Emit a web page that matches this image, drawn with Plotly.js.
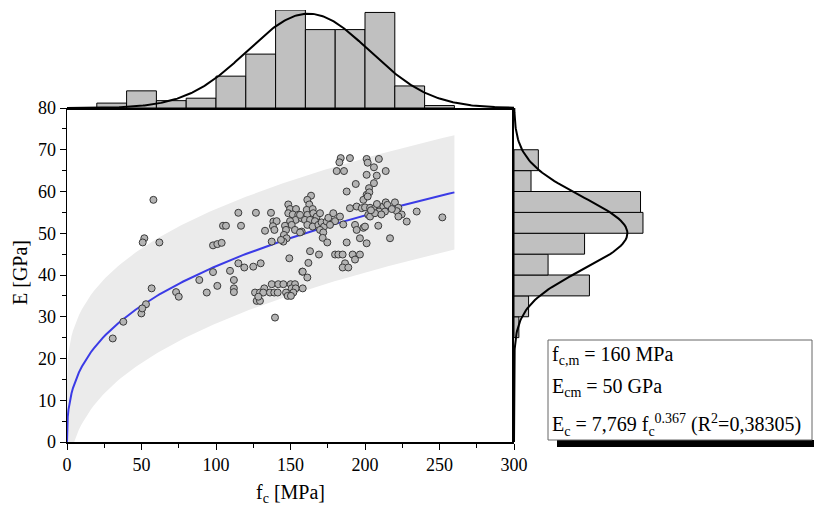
<!DOCTYPE html>
<html>
<head>
<meta charset="utf-8">
<script src="https://cdn.plot.ly/plotly-3.0.1.min.js"></script>
<style>html,body{margin:0;padding:0;background:#fff}#chart{width:814px;height:512px}</style>
</head>
<body>
<div id="chart"></div>
<script>
// ---------- data ----------
const fc = [58,51.9,50.8,62,104.7,106.7,98,100.9,103.8,98,109.4,88.8,100.9,93.8,56.8,73.2,75,53,49.9,50.5,37.8,30.7,
 115,126.8,136.9,116.8,132.9,138.5,140.7,138.2,139.2,
 148.5,149.7,153.7,148.5,151.5,155.2,153.5,157.5,149.7,146.3,150.8,153,157.5,147,145.6,147.4,145.2,143.6,137.4,
 149.2,115,119,125,130,157.9,112,112,112,
 137.4,141.8,145.2,150.1,153,132.4,150.8,153.5,
 126.2,129.5,131.7,136.2,139.1,141.4,147,151.9,127.3,129.5,128.4,148.1,150.3,139.6,
 183.7,189.9,182.8,181,185.9,201.1,201.1,193.8,202.7,187.7,201.1,198.9,163.8,161.3,162.6,
 160.9,164.9,161.3,165.3,167.6,169.8,159.7,163.1,166.4,161.3,164.9,168.7,170.9,172.5,174.3,175.4,178.7,179.9,183.2,185.4,176.5,169.8,172,171.6,174.7,156.4,156.4,
 189.9,194.4,197.8,200,202.2,193.3,194.4,198.9,196.6,201.1,187.7,
 163.1,169.1,179.9,182.1,185,191.7,196.6,193.3,186.6,185,188.8,162,158.2,158.2,161.3,
 201.8,209.3,206,213.9,207.9,206,202.9,201.8,
 203.4,206.7,210.1,212.3,213.9,209.4,213.4,203.4,206.7,220.1,222.4,221.3,224.6,222.4,228,234.7,208.9,216.8,200,
 208,215,218,211,204,251.9];
const Ec = [58,48.8,47.8,47.8,51.8,51.8,47.1,47.4,47.7,40.7,41,38.8,37.4,35.8,36.8,35.9,34.8,33,30.8,32,28.8,24.8,
 54.9,54.9,54.9,51.8,50.6,52.8,52.9,51.7,50.8,
 56.9,55.8,55.8,54.8,54.5,54.4,53.2,53.6,52.9,51.8,52,50.8,50.4,50.8,49.6,48.8,48,48.4,48,
 44,42.8,41.8,42,42.8,40.8,38.8,36.8,35.9,
 37.8,37.8,37.8,37.8,37.8,36.8,36.8,36.8,
 35.8,35.8,35.8,35.8,35.8,35.8,35.8,35.8,33.8,33.8,34.8,35,35,29.8,
 68,68,67,64.9,64.9,67.8,64,61.8,60.8,60,59.2,58,59,58,56.9,
 55.6,55.8,54.4,54.8,54,54.8,53.2,53.2,52.9,52,51.6,52,52.6,51.6,52.8,53.7,54.8,52.9,54,52.1,52,50.8,50.2,48.9,47.8,54.4,50.2,
 56,56.4,56,56.2,54.4,52,50.8,51.3,48.8,47.6,47.8,
 45.7,44.9,44.9,44.9,44.9,44.9,44.9,43.7,42.8,41.8,41.8,42.9,40.8,36.8,39.4,
 66.9,67.8,65.8,64.9,63.8,62,59.8,58.8,
 56.1,56,56.1,56.4,57.4,55.2,55.2,54,54.8,57.4,56.1,55.3,54.5,54,52.8,55.2,51.8,48.8,51.6,
 57,56.8,55.8,54.5,55.5,53.8];

// top histogram of f_c (bins of 20 MPa)
const fcBinCenters = [30,50,70,90,110,130,150,170,190,210,230,250];
const fcCounts     = [2,7,3,4,13,22,40,32,32,39,9,1];
// right histogram of E (bins of 5 GPa)
const eBinCenters  = [27.5,32.5,37.5,42.5,47.5,52.5,57.5,62.5,67.5];
const eCounts      = [2,6,31,14,29,53,52,7,10];

// fitted relation E = a * fc^b and band half width
const fitA = 7.769, fitB = 0.367, bandHalf = 13.7, fitMaxX = 260;
// normal curves (mean, sd, peak count)
const fcMean = 162, fcSd = 41, fcPeak = 38.5;
const eMean = 50, eSd = 8.7, ePeak = 46.6;

// ---------- derived curves ----------
const fitX = [0, 0.001, 0.01, 0.05, 0.1, 0.25, 0.5, 1, 1.5, 2, 3];
for (let v = 4; v <= fitMaxX; v += 2) fitX.push(v);
const fitY = fitX.map(v => fitA * Math.pow(v, fitB));
const bandUp = fitY.map(v => v + bandHalf);
const bandLo = fitY.map(v => v - bandHalf);

const gFcX = [], gFcY = [];
for (let v = 0; v <= 300; v += 1) { gFcX.push(v); gFcY.push(fcPeak * Math.exp(-0.5 * Math.pow((v - fcMean) / fcSd, 2))); }
const gEY = [], gEX = [];
for (let v = 0; v <= 80; v += 0.5) { gEY.push(v); gEX.push(ePeak * Math.exp(-0.5 * Math.pow((v - eMean) / eSd, 2))); }

// ---------- layout geometry ----------
const W = 814, H = 512;
const fx = p => p / W, fy = p => 1 - p / H;
const FONT = '"Liberation Serif"';

const traces = [
  {x: fitX, y: bandLo, type: 'scatter', mode: 'lines', line: {width: 0, color: 'rgba(0,0,0,0)'}, hoverinfo: 'skip', showlegend: false},
  {x: fitX, y: bandUp, type: 'scatter', mode: 'lines', fill: 'tonexty', fillcolor: '#ebebeb', line: {width: 0, color: 'rgba(0,0,0,0)'}, showlegend: false},
  {x: fitX, y: fitY, type: 'scatter', mode: 'lines', line: {color: '#3b3be6', width: 2}, showlegend: false},
  {x: fc, y: Ec, type: 'scatter', mode: 'markers', marker: {size: 7, color: '#b4b4b4', line: {color: '#3a3a3a', width: 1}}, showlegend: false},
  {x: fcBinCenters, y: fcCounts, type: 'bar', width: 20, xaxis: 'x2', yaxis: 'y2', marker: {color: '#c0c0c0', line: {color: '#000', width: 1}}, showlegend: false},
  {x: gFcX, y: gFcY, type: 'scatter', mode: 'lines', xaxis: 'x2', yaxis: 'y2', line: {color: '#000', width: 2}, showlegend: false},
  {x: eCounts, y: eBinCenters, type: 'bar', orientation: 'h', width: 5, xaxis: 'x3', yaxis: 'y3', marker: {color: '#c0c0c0', line: {color: '#000', width: 1}}, showlegend: false},
  {x: gEX, y: gEY, type: 'scatter', mode: 'lines', xaxis: 'x3', yaxis: 'y3', line: {color: '#000', width: 2}, showlegend: false}
];

const mainXDom = [fx(67), fx(514)];
const mainYDom = [fy(442), fy(108)];

const layout = {
  width: W, height: H,
  margin: {l: 0, r: 0, t: 0, b: 0},
  paper_bgcolor: '#fff', plot_bgcolor: 'rgba(0,0,0,0)',
  showlegend: false,
  font: {family: FONT, size: 17, color: '#000'},
  bargap: 0,
  xaxis: {domain: mainXDom, anchor: 'y', range: [0, 300], dtick: 50, tick0: 0, ticks: 'outside', ticklen: 6, tickwidth: 1, tickcolor: '#000',
          minor: {dtick: 25, ticks: 'outside', ticklen: 4, tickcolor: '#000'},
          showline: true, linecolor: '#000', linewidth: 1.5, showgrid: false, zeroline: false,
          tickfont: {family: FONT, size: 18, color: '#000'}, automargin: false},
  yaxis: {domain: mainYDom, anchor: 'x', range: [0, 80], dtick: 10, tick0: 0, ticks: 'outside', ticklen: 6, tickwidth: 1, tickcolor: '#000',
          minor: {dtick: 5, ticks: 'outside', ticklen: 4, tickcolor: '#000'},
          showline: true, linecolor: '#000', linewidth: 1.5, showgrid: false, zeroline: false,
          tickfont: {family: FONT, size: 18, color: '#000'}, automargin: false},
  xaxis2: {domain: mainXDom, anchor: 'y2', range: [0, 300], showline: true, linecolor: '#000', linewidth: 1.5,
           tickvals: [0, 300], ticks: 'inside', ticklen: 4, tickcolor: '#000', showticklabels: false, showgrid: false, zeroline: false},
  yaxis2: {domain: [fy(108), fy(10)], anchor: 'x2', range: [0, 40], visible: false},
  xaxis3: {domain: [fx(514), fx(660)], anchor: 'y3', range: [0, 60], visible: false},
  yaxis3: {domain: mainYDom, anchor: 'x3', range: [0, 80], showline: true, linecolor: '#000', linewidth: 2,
           ticks: '', showticklabels: false, showgrid: false, zeroline: false},
  shapes: [
    {type: 'rect', xref: 'paper', yref: 'paper', x0: fx(557), x1: fx(830), y0: fy(440), y1: fy(447), fillcolor: '#000', line: {width: 0}},
    {type: 'rect', xref: 'paper', yref: 'paper', x0: fx(548), x1: fx(812), y0: fy(340), y1: fy(440), fillcolor: '#fff', line: {color: '#666', width: 1}}
  ],
  annotations: [
    {xref: 'paper', yref: 'paper', x: fx(290), y: fy(493), text: 'f<sub>c</sub> [MPa]', showarrow: false, xanchor: 'center', yanchor: 'middle', font: {family: FONT, size: 20}},
    {xref: 'paper', yref: 'paper', x: fx(20), y: fy(273), text: 'E [GPa]', textangle: -90, showarrow: false, xanchor: 'center', yanchor: 'middle', font: {family: FONT, size: 20}},
    {xref: 'paper', yref: 'paper', x: fx(550), y: fy(355), text: 'f<sub>c,m</sub> = 160 MPa', showarrow: false, xanchor: 'left', yanchor: 'middle', font: {family: FONT, size: 20}},
    {xref: 'paper', yref: 'paper', x: fx(550), y: fy(387), text: 'E<sub>cm</sub> = 50 GPa', showarrow: false, xanchor: 'left', yanchor: 'middle', font: {family: FONT, size: 20}},
    {xref: 'paper', yref: 'paper', x: fx(550), y: fy(425), text: 'E<sub>c</sub> = 7,769 f<sub>c</sub><sup>0.367</sup> (R<sup>2</sup>=0,38305)', showarrow: false, xanchor: 'left', yanchor: 'middle', font: {family: FONT, size: 20}}
  ]
};

Plotly.newPlot('chart', traces, layout, {staticPlot: true, displayModeBar: false});
</script>
</body>
</html>
